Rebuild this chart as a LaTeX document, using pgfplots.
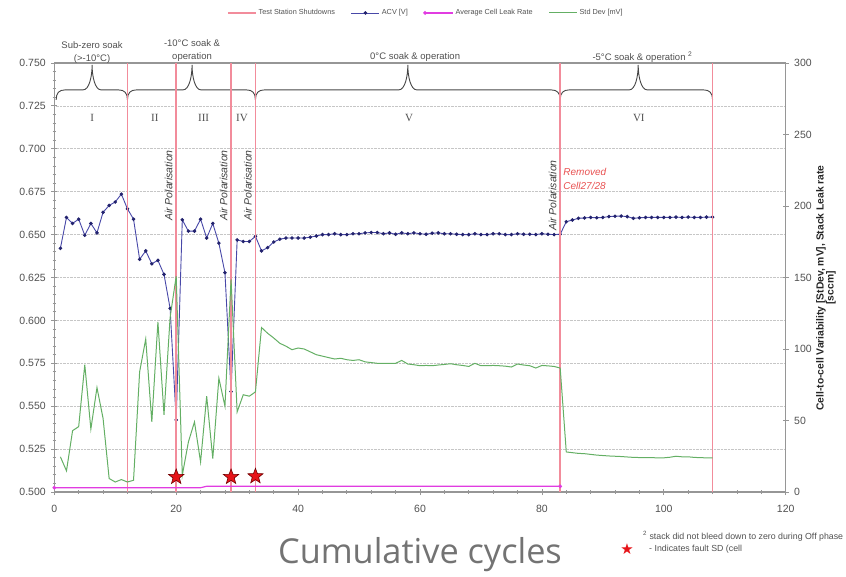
\documentclass[border=0pt]{standalone}
\usepackage{fontspec}
\setmainfont{Liberation Sans}
\newfontfamily\osans{Open Sans}
\newfontfamily\rmserif{Liberation Serif}
\newfontfamily\dejavu{DejaVu Sans}
\usepackage{pgfplots}
\pgfplotsset{compat=1.18}
\usetikzlibrary{calc}

\definecolor{acvblue}{RGB}{72,72,168}
\definecolor{acvmark}{RGB}{35,35,110}
\definecolor{sdgreen}{RGB}{100,175,100}
\definecolor{leakmag}{RGB}{225,60,225}
\definecolor{shutpink}{RGB}{242,140,155}
\definecolor{axgray}{RGB}{150,150,150}
\definecolor{txtgray}{RGB}{80,80,80}
\definecolor{starred}{RGB}{230,20,25}
\definecolor{notered}{RGB}{232,80,80}
\definecolor{bracecol}{RGB}{70,70,70}

% filled five-point star for the fault markers
\pgfdeclareplotmark{fstar}{%
  \pgfpathmoveto{\pgfpointpolar{90}{\pgfplotmarksize}}%
  \pgfpathlineto{\pgfpointpolar{126}{0.42\pgfplotmarksize}}%
  \pgfpathlineto{\pgfpointpolar{162}{\pgfplotmarksize}}%
  \pgfpathlineto{\pgfpointpolar{198}{0.42\pgfplotmarksize}}%
  \pgfpathlineto{\pgfpointpolar{234}{\pgfplotmarksize}}%
  \pgfpathlineto{\pgfpointpolar{270}{0.42\pgfplotmarksize}}%
  \pgfpathlineto{\pgfpointpolar{306}{\pgfplotmarksize}}%
  \pgfpathlineto{\pgfpointpolar{342}{0.42\pgfplotmarksize}}%
  \pgfpathlineto{\pgfpointpolar{18}{\pgfplotmarksize}}%
  \pgfpathlineto{\pgfpointpolar{54}{0.42\pgfplotmarksize}}%
  \pgfpathclose\pgfusepathqfillstroke}

% brace over a test phase: left end, tip, right end
\newcommand{\topbrace}[3]{%
  \draw[bracecol, line width=0.9pt]
    (axis cs:#1,0.7285) .. controls +(0pt,7pt) and +(-6pt,0pt) .. ($(axis cs:#1,0.7285)+(9pt,10pt)$)
    -- ($(axis cs:#2,0.7285)+(-9pt,10pt)$)
    .. controls +(6pt,0pt) and +(0pt,-12pt) .. ($(axis cs:#2,0.7285)+(0pt,35pt)$)
    .. controls +(0pt,-12pt) and +(-6pt,0pt) .. ($(axis cs:#2,0.7285)+(9pt,10pt)$)
    -- ($(axis cs:#3,0.7285)+(-9pt,10pt)$)
    .. controls +(6pt,0pt) and +(0pt,7pt) .. (axis cs:#3,0.7285);}

\pgfplotstableread{
x acv
1 0.642
2 0.660
3 0.6565
4 0.659
5 0.6496
6 0.6565
7 0.651
8 0.663
9 0.667
10 0.669
11 0.6736
12 0.665
13 0.659
14 0.6356
15 0.6405
16 0.633
17 0.635
18 0.6268
19 0.607
20 0.542
21 0.6586
22 0.652
23 0.652
24 0.659
25 0.648
26 0.6565
27 0.645
28 0.6278
29 0.5585
30 0.6469
31 0.646
32 0.646
33 0.649
34 0.6405
35 0.6424
36 0.6457
37 0.6473
38 0.648
39 0.648
40 0.648
41 0.648
42 0.6485
43 0.6492
44 0.650
45 0.650
46 0.6505
47 0.650
48 0.650
49 0.6505
50 0.6505
51 0.651
52 0.6512
53 0.6512
54 0.6505
55 0.651
56 0.6502
57 0.651
58 0.6505
59 0.651
60 0.6505
61 0.6502
62 0.6508
63 0.651
64 0.6505
65 0.6505
66 0.6502
67 0.650
68 0.650
69 0.6505
70 0.650
71 0.650
72 0.6505
73 0.6505
74 0.650
75 0.650
76 0.6505
77 0.6502
78 0.6502
79 0.650
80 0.6505
81 0.6502
82 0.650
83 0.6502
84 0.6575
85 0.6585
86 0.6595
87 0.6597
88 0.660
89 0.6598
90 0.660
91 0.6605
92 0.6607
93 0.6608
94 0.6605
95 0.6595
96 0.6598
97 0.660
98 0.660
99 0.660
100 0.660
101 0.660
102 0.6602
103 0.660
104 0.6602
105 0.660
106 0.660
107 0.6602
108 0.6602
}\acvdata

\pgfplotstableread{
x sd
1 24.6
2 14.8
3 42.9
4 45.7
5 89
6 44
7 73
8 51.5
9 9.4
10 7
11 8.7
12 7
13 8.2
14 84
15 107
16 49
17 119
18 54
19 122
20 151
21 11.7
22 35
23 49
24 21
25 67
26 23.4
27 79.6
28 60
29 148.7
30 56
31 68
32 67
33 70
34 115
35 111
36 107.7
37 104
38 102
39 99.5
40 100.7
41 100
42 98
43 96
44 95
45 94
46 93
47 93.5
48 92.5
49 92
50 92.5
51 91
52 90.5
53 90
54 90
55 90
56 90
57 92
58 89.5
59 89
60 88.3
61 88.5
62 88.3
63 88.8
64 89.2
65 89.7
66 89
67 88.5
68 87.8
69 90
70 88.3
71 88.3
72 88.5
73 88.3
74 88
75 87.4
76 89.5
77 88.8
78 88.3
79 86.7
80 88.5
81 88.2
82 87.8
83 86.7
84 28
85 27.5
86 27
87 26.8
88 26.3
89 25.8
90 25.5
91 25.2
92 25
93 24.8
94 24.5
95 24.2
96 24.1
97 24
98 24
99 23.9
100 23.9
101 24.3
102 25
103 24.6
104 24.6
105 24.2
106 24
107 23.9
108 23.9
}\sddata

\begin{document}
\begin{tikzpicture}
\useasboundingbox (0,0) rectangle (846pt,576pt);

% left axis: ACV [V]
\begin{axis}[
    at={(54.3pt,84pt)}, anchor=south west,
    scale only axis, width=731.4pt, height=429pt,
    xmin=0, xmax=120, ymin=0.5, ymax=0.75,
    xtick={0,20,40,60,80,100,120},
    ytick={0.5,0.525,0.55,0.575,0.6,0.625,0.65,0.675,0.7,0.725,0.75},
    minor x tick num=4, minor y tick num=4,
    xtick pos=bottom, ytick pos=left,
    tick align=center,
    major tick length=6pt, minor tick length=3.5pt,
    every tick/.style={axgray, line width=0.8pt},
    axis line style={axgray, line width=1.4pt},
    ymajorgrids, grid style={densely dotted, gray!45, line width=0.6pt},
    /pgf/number format/assume math mode=true,
    yticklabel style={/pgf/number format/fixed, /pgf/number format/fixed zerofill,
        /pgf/number format/precision=3, xshift=-2pt},
    xticklabel style={yshift=-7pt},
    ticklabel style={font=\fontsize{10.5}{12}\selectfont, text=txtgray},
    clip=false,
]
\addplot[acvblue, line width=0.9pt, mark=*, mark size=1.3pt, mark options={acvmark}]
    table[x=x, y=acv] {\acvdata};

% phase braces
\topbrace{0.3}{6.2}{12}
\topbrace{12}{22.6}{33}
\topbrace{33}{58}{83}
\topbrace{83}{95.8}{108}

\begin{scope}[every node/.style={font=\rmserif\fontsize{11}{12}\selectfont, text=txtgray}]
\node at (axis cs:6.2,0.718) {I};
\node at (axis cs:16.5,0.718) {II};
\node at (axis cs:24.5,0.718) {III};
\node at (axis cs:30.8,0.718) {IV};
\node at (axis cs:58.2,0.718) {V};
\node at (axis cs:95.9,0.718) {VI};
\end{scope}

\begin{scope}[every node/.style={font=\fontsize{9.5}{11}\selectfont, text=txtgray, inner sep=0pt}]
\node at (axis cs:6.2,0.7605) {Sub-zero soak};
\node at (axis cs:6.2,0.7523) {(>-10°C)};
\node at (axis cs:22.6,0.7617) {-10°C soak \&};
\node at (axis cs:22.6,0.7535) {operation};
\node at (axis cs:59.2,0.7535) {0°C soak \& operation};
\node at (axis cs:96.5,0.7535) {-5°C soak \& operation \textsuperscript{2}};
\end{scope}

\begin{scope}[every node/.style={rotate=90, anchor=south west, inner sep=1pt,
    font=\itshape\fontsize{10.5}{12}\selectfont, text=black!75}]
\node at (axis cs:19.6,0.6573) {Air Polarisation};
\node at (axis cs:28.6,0.6573) {Air Polarisation};
\node at (axis cs:32.6,0.6573) {Air Polarisation};
\node at (axis cs:82.6,0.6515) {Air Polarisation};
\end{scope}

\node[anchor=north west, align=left, inner sep=0pt,
    font=\itshape\fontsize{10}{13.5}\selectfont, text=notered]
    at (axis cs:83.5,0.6885) {Removed\\Cell27/28};
\end{axis}

% right axis: Std Dev [mV] and leak rate [sccm]
\begin{axis}[
    at={(54.3pt,84pt)}, anchor=south west,
    scale only axis, width=731.4pt, height=429pt,
    xmin=0, xmax=120, ymin=0, ymax=300,
    axis x line=none, axis y line*=right,
    ytick={0,50,100,150,200,250,300},
    tick align=center, major tick length=6pt,
    every tick/.style={axgray, line width=0.8pt},
    axis line style={axgray, line width=1.4pt},
    /pgf/number format/assume math mode=true,
    yticklabel style={xshift=2pt},
    ticklabel style={font=\fontsize{10.5}{12}\selectfont, text=txtgray},
    unbounded coords=jump,
    legend columns=-1,
    legend style={at={(axis description cs:0.508,1.1166)}, anchor=center,
        draw=none, fill=none, font=\fontsize{7.3}{8}\selectfont, text=txtgray,
        /tikz/every even column/.append style={column sep=14pt}},
    legend image code/.code={\draw[mark repeat=2, mark phase=2, #1]
        plot coordinates {(0pt,0pt) (14pt,0pt) (28pt,0pt)};},
]
\addplot[shutpink, line width=1.6pt] coordinates {
    (12,0) (12,300) (12,nan)
    (20,0) (20,300) (20,nan)
    (29,0) (29,300) (29,nan)
    (33,0) (33,300) (33,nan)
    (83,0) (83,300) (83,nan)
    (108,0) (108,300)
};
\addlegendentry{Test Station Shutdowns}
\addlegendimage{acvblue, line width=0.9pt, mark=*, mark size=1.3pt, mark options={acvmark}}
\addlegendentry{ACV [V]}
\addplot[leakmag, line width=1.2pt, mark=*, mark size=1.2pt, mark indices={1,4}]
    coordinates {(0,3) (24,3) (25,4) (83,4)};
\addlegendentry{Average Cell Leak Rate}
\addplot[sdgreen, line width=1pt] table[x=x, y=sd] {\sddata};
\addlegendentry{Std Dev [mV]}
\addplot[only marks, mark=fstar, mark size=8pt,
    mark options={fill=starred, draw=red!45!black, line width=0.6pt}, forget plot]
    coordinates {(20,10.5) (29,10.5) (33,11)};
\end{axis}

\node[rotate=90, align=center, font=\bfseries\fontsize{10.3}{10}\selectfont, text=black!85]
    at (826pt,288pt) {Cell-to-cell Variability [StDev, mV], Stack Leak rate\\{[sccm]}};
\node[anchor=base, font=\osans\fontsize{34.3}{36}\selectfont, text=black!55]
    at (420pt,13pt) {Cumulative cycles};
\node[anchor=base west, inner sep=0pt, font=\fontsize{8.8}{10}\selectfont, text=txtgray]
    at (643pt,37pt) {\textsuperscript{2} stack did not bleed down to zero during Off phase};
\node[text=starred, inner sep=0pt, font=\dejavu\fontsize{15}{15}\selectfont]
    at (627pt,27pt) {★};
\node[anchor=base west, inner sep=0pt, font=\fontsize{8.8}{10}\selectfont, text=txtgray]
    at (649pt,25pt) {- Indicates fault SD (cell};
\end{tikzpicture}
\end{document}
